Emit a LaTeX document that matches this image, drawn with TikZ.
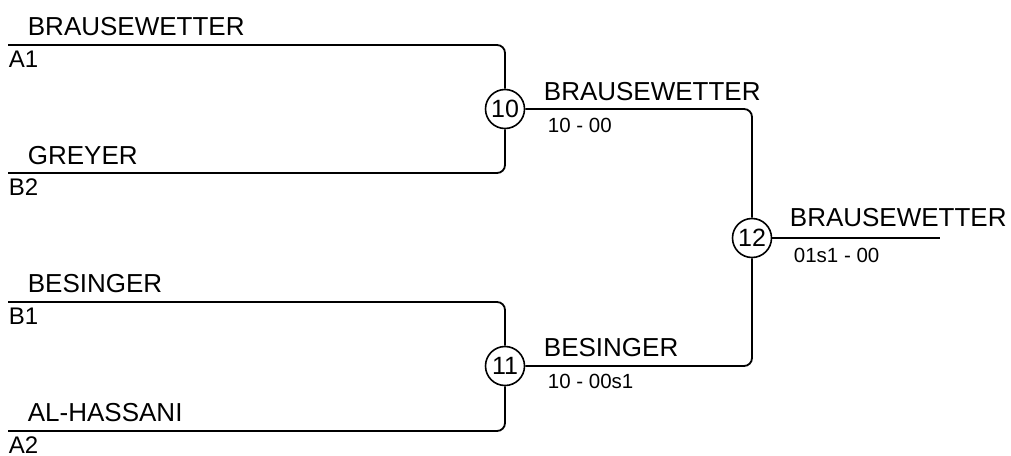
\documentclass[tikz,border=0pt]{standalone}
\usepackage{fontspec}
\setmainfont{Liberation Sans}
\usepackage{tikz}

\begin{document}
\begin{tikzpicture}[x=1pt,y=-1pt,line width=1.8pt,
		player/.style={anchor=base west, inner sep=0pt, font=\fontsize{26}{26}\selectfont},
		seed/.style={anchor=north west, inner sep=0pt, font=\fontsize{24}{24}\selectfont},
		score/.style={anchor=north west, inner sep=0pt, font=\fontsize{20.5}{21}\selectfont},
		match/.style={circle, draw, line width=1.6pt, minimum size=39pt, inner sep=0pt, font=\fontsize{25}{25}\selectfont},
		bracket/.style={rounded corners=8pt}]
			\useasboundingbox (0,0) rectangle (1011,455);
			% matches
			\node[match] at (505,109) (m10){10};
			\node[match] at (505,366) (m11){11};
			\node[match] at (752,238) (m12){12};
			% free line ends
			\coordinate (a1) at (8,45);
			\coordinate (b2) at (8,173);
			\coordinate (b1) at (8,302);
			\coordinate (a2) at (8,431);
			\coordinate (w12) at (940,238);
			\draw[bracket] (a1) -| (m10.north);
			\draw[bracket] (b2) -| (m10.south);
			\draw[bracket] (b1) -| (m11.north);
			\draw[bracket] (a2) -| (m11.south);
			\draw[bracket] (m10.east) -| (m12.north);
			\draw[bracket] (m11.east) -| (m12.south);
			\draw (m12.east) -- (w12);
			% first round
			\node[player] at (27,35) (p1){BRAUSEWETTER};
			\node[seed] at (8,50) (s1){A1};
			\node[player] at (27,164) (p2){GREYER};
			\node[seed] at (8,178) (s2){B2};
			\node[player] at (27,292) (p3){BESINGER};
			\node[seed] at (8,307) (s3){B1};
			\node[player] at (27,421) (p4){AL-HASSANI};
			\node[seed] at (8,436) (s4){A2};
			% second round
			\node[player] at (543,100) (w10){BRAUSEWETTER};
			\node[score] at (547,117) (r10){10 - 00};
			\node[player] at (543,356) (w11){BESINGER};
			\node[score] at (547,373) (r11){10 - 00s1};
			% final
			\node[player] at (789,226) (w12t){BRAUSEWETTER};
			\node[score] at (793,247) (r12){01s1 - 00};
		\end{tikzpicture}
\end{document}
